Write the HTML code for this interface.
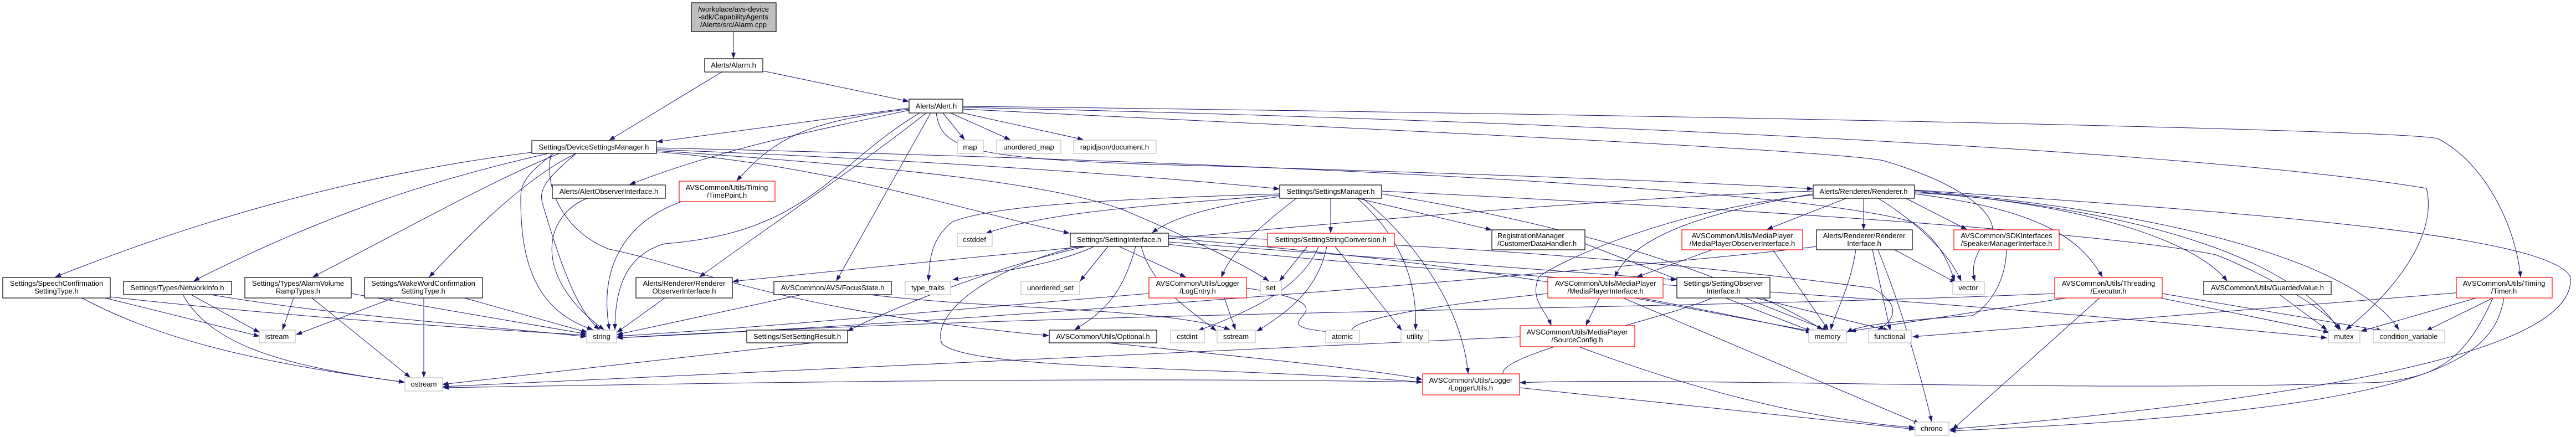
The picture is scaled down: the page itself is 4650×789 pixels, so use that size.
<!DOCTYPE html>
<html><head><meta charset="utf-8"><style>
html,body{margin:0;padding:0;background:#fff;}
svg{display:block;}
text{font-family:"Liberation Sans",Arial,sans-serif;font-size:13px;fill:#000;}
.n rect{fill:#fff;stroke:#000;stroke-width:1.2;}
.r rect{fill:#fff;stroke:#ff0000;stroke-width:1.2;}
.g rect{fill:#fff;stroke:#bfbfbf;stroke-width:1.2;}
.e path{fill:none;stroke:#191970;stroke-width:1;marker-end:url(#a);}
</style></head><body>
<svg width="4650" height="789" viewBox="0 0 4650 789" xmlns="http://www.w3.org/2000/svg">
<defs><marker id="a" markerWidth="11" markerHeight="8" refX="10" refY="4" orient="auto" markerUnits="userSpaceOnUse"><path d="M0,0 L11,4 L0,8 z" fill="#191970"/></marker></defs>
<g class="e">
<path d="M1324,57 L1324,105"/>
<path d="M1377,128 L1640,183"/>
<path d="M1303,130 L1100,253"/>
<path d="M1641,195 L1186,256"/>
<path d="M1702,204 L1741,252"/>
<path d="M1716,204 L1823,252"/>
<path d="M1738,204 L1955,252"/>
<path d="M1641,197 C1450,220 1400,250 1330,326"/>
<path d="M1641,199 C1450,240 1300,270 1137,333"/>
<path d="M1672,204 C1550,300 1400,400 1263,500"/>
<path d="M1680,204 L1510,507"/>
<path d="M1660,204 C1500,300 1460,420 1200,440 C1130,460 1110,520 1110,595"/>
<path d="M1690,204 C1700,270 1740,290 2200,300 C2700,315 3100,330 3272,341"/>
<path d="M1738,192 C2500,200 4300,230 4400,250 C4480,290 4540,400 4550,500"/>
<path d="M1738,194 C2500,210 3900,260 4380,340 C4400,420 4330,520 4235,595"/>
<path d="M1738,197 C2400,230 3300,270 3400,290 C3600,350 3620,420 3580,440 C3560,470 3560,490 3565,507"/>
<path d="M960,275 C600,320 300,420 100,500"/>
<path d="M990,277 C800,320 600,380 350,507"/>
<path d="M1010,277 C900,320 720,420 565,500"/>
<path d="M1040,277 C950,320 850,420 775,500"/>
<path d="M1000,277 C940,320 940,340 940,360 C940,460 960,560 1070,595"/>
<path d="M1040,277 C990,320 970,340 980,370 C1010,470 1040,560 1082,595"/>
<path d="M1185,270 C1700,290 2100,320 2309,341"/>
<path d="M1185,274 C1500,300 1700,370 1930,421"/>
<path d="M1185,272 C1600,300 1900,330 2030,380 C2150,430 2250,480 2290,507"/>
<path d="M1185,267 C2000,285 3200,330 3450,400 C3500,430 3520,480 3528,507"/>
<path d="M995,277 C980,340 1020,420 1100,450 C1250,480 1400,560 1893,606"/>
<path d="M1060,358 C980,390 960,500 1090,595"/>
<path d="M1230,364 C1130,400 1080,480 1100,595"/>
<path d="M1200,538 L1114,600"/>
<path d="M1447,532 L1114,604"/>
<path d="M1570,532 C1800,560 2100,555 2220,595"/>
<path d="M190,538 L468,607"/>
<path d="M148,538 C300,620 500,660 730,690"/>
<path d="M190,535 C500,570 800,590 1058,605"/>
<path d="M345,532 L468,600"/>
<path d="M330,532 C380,620 500,660 730,690"/>
<path d="M380,532 C600,570 900,590 1058,608"/>
<path d="M530,538 L510,595"/>
<path d="M563,538 L740,681"/>
<path d="M634,530 L1058,603"/>
<path d="M710,538 L535,604"/>
<path d="M765,538 L765,681"/>
<path d="M838,538 L1060,600"/>
<path d="M2402,358 L2402,420"/>
<path d="M2450,358 L2692,415"/>
<path d="M2310,352 C2100,370 1900,380 1780,421"/>
<path d="M2310,355 C2200,370 2120,390 2080,420"/>
<path d="M2340,358 C2260,420 2220,460 2205,500"/>
<path d="M2450,358 C2520,420 2560,500 2555,595"/>
<path d="M2460,358 C2560,440 2640,560 2650,674"/>
<path d="M2494,350 C2800,400 3100,480 3290,595"/>
<path d="M2494,345 C3200,380 3800,420 4000,460 C4100,500 4200,560 4225,595"/>
<path d="M2310,350 C2000,360 1800,370 1720,400 C1680,430 1678,470 1676,507"/>
<path d="M3273,345 C2800,360 2000,440 1323,508"/>
<path d="M3333,358 L3190,414"/>
<path d="M3364,358 L3364,414"/>
<path d="M3273,350 C3100,380 2950,420 2915,500"/>
<path d="M3273,352 C3000,380 2800,480 2778,500 C2760,540 2790,560 2800,587"/>
<path d="M3440,358 L3550,414"/>
<path d="M3390,358 C3460,400 3520,460 3540,507"/>
<path d="M3456,350 C3700,380 3760,440 3795,500"/>
<path d="M3456,348 C3700,360 3950,420 4020,507"/>
<path d="M3456,346 C3900,380 4150,480 4222,595"/>
<path d="M3456,344 C3900,380 4250,470 4330,595"/>
<path d="M3456,343 C4000,380 4600,420 4640,500 C4650,600 4400,700 3520,775"/>
<path d="M2109,426 C2600,440 3000,470 3380,520 C3450,560 3400,590 3390,595"/>
<path d="M2109,430 C2600,470 2900,520 3270,600"/>
<path d="M2020,445 L2140,500"/>
<path d="M2000,445 L1950,507"/>
<path d="M1975,445 C1900,480 1800,490 1720,505"/>
<path d="M1960,445 C1800,480 1600,560 1530,598"/>
<path d="M2050,445 C2030,520 2000,560 1940,595"/>
<path d="M2060,445 C2080,520 2150,560 2195,597"/>
<path d="M2109,437 L3026,505"/>
<path d="M1945,445 C1800,480 1680,560 1700,620 C1750,670 2200,660 2567,690"/>
<path d="M2109,441 C2600,500 3300,520 4200,610"/>
<path d="M2360,445 L2310,507"/>
<path d="M2395,445 C2380,520 2330,560 2269,598"/>
<path d="M2380,445 C2350,520 2260,560 2163,597"/>
<path d="M2410,445 L2530,596"/>
<path d="M2250,520 C2500,560 2200,590 2454,603"/>
<path d="M2210,538 L2230,595"/>
<path d="M2074,530 C1700,560 1400,590 1114,607"/>
<path d="M2861,440 L3270,598"/>
<path d="M3091,451 L2955,500"/>
<path d="M3200,451 L3300,595"/>
<path d="M3279,445 C3000,480 1800,580 1114,610"/>
<path d="M3350,451 C3340,520 3310,570 3305,595"/>
<path d="M3380,451 L3412,596"/>
<path d="M3390,451 C3430,550 3460,650 3487,761"/>
<path d="M3420,451 L3530,510"/>
<path d="M2887,538 L2863,587"/>
<path d="M2950,538 L3280,600"/>
<path d="M2930,538 L3465,765"/>
<path d="M2794,530 C2500,560 2400,590 2454,606"/>
<path d="M3090,538 C3000,580 2600,660 2744,690"/>
<path d="M3150,538 L3300,597"/>
<path d="M3170,538 L3410,597"/>
<path d="M3622,451 C3620,520 3580,560 3560,570 C3400,580 3350,590 3334,600"/>
<path d="M3709,530 C3000,560 2000,560 1114,610"/>
<path d="M3730,538 L3340,598"/>
<path d="M3790,538 L3525,775"/>
<path d="M3903,530 L4300,597"/>
<path d="M3900,538 L4204,600"/>
<path d="M4115,532 L4200,595"/>
<path d="M4480,525 L3453,608"/>
<path d="M4470,538 L4262,598"/>
<path d="M4500,538 L4380,597"/>
<path d="M4500,538 C4450,650 4400,680 4300,690 C3800,710 3000,680 2744,691"/>
<path d="M4520,538 C4500,650 4400,740 3520,778"/>
<path d="M1530,612 L799,694"/>
<path d="M2000,619 C2300,650 2500,670 2567,685"/>
<path d="M2744,608 C2000,640 1300,680 800,698"/>
<path d="M2850,626 C3100,720 3300,760 3456,772"/>
<path d="M2743,700 L3456,775"/>
<path d="M2568,690 C2000,680 1400,690 800,700"/>
</g>
<g class="n"><rect x="1248" y="5" width="153" height="52" style="fill:#bfbfbf"/><text x="1324" y="21" text-anchor="middle">/workplace/avs-device</text><text x="1324" y="35" text-anchor="middle">-sdk/CapabilityAgents</text><text x="1324" y="49" text-anchor="middle">/Alerts/src/Alarm.cpp</text></g>
<g class="n"><rect x="1272" y="106" width="105" height="24"/><text x="1324" y="122" text-anchor="middle">Alerts/Alarm.h</text></g>
<g class="n"><rect x="1641" y="179" width="97" height="25"/><text x="1690" y="196" text-anchor="middle">Alerts/Alert.h</text></g>
<g class="n"><rect x="960" y="254" width="225" height="23"/><text x="1072" y="270" text-anchor="middle">Settings/DeviceSettingsManager.h</text></g>
<g class="g"><rect x="1728" y="253" width="47" height="24"/><text x="1751" y="270" text-anchor="middle">map</text></g>
<g class="g"><rect x="1799" y="253" width="116" height="24"/><text x="1857" y="270" text-anchor="middle">unordered_map</text></g>
<g class="g"><rect x="1938" y="253" width="149" height="24"/><text x="2012" y="270" text-anchor="middle">rapidjson/document.h</text></g>
<g class="n"><rect x="997" y="334" width="204" height="24"/><text x="1099" y="350" text-anchor="middle">Alerts/AlertObserverInterface.h</text></g>
<g class="r"><rect x="1226" y="327" width="173" height="37"/><text x="1312" y="343" text-anchor="middle">AVSCommon/Utils/Timing</text><text x="1312" y="357" text-anchor="middle">/TimePoint.h</text></g>
<g class="n"><rect x="2310" y="334" width="184" height="24"/><text x="2402" y="350" text-anchor="middle">Settings/SettingsManager.h</text></g>
<g class="n"><rect x="3273" y="334" width="183" height="24"/><text x="3364" y="350" text-anchor="middle">Alerts/Renderer/Renderer.h</text></g>
<g class="g"><rect x="1728" y="421" width="63" height="24"/><text x="1759" y="437" text-anchor="middle">cstddef</text></g>
<g class="n"><rect x="1932" y="421" width="177" height="24"/><text x="2020" y="437" text-anchor="middle">Settings/SettingInterface.h</text></g>
<g class="r"><rect x="2288" y="421" width="229" height="24"/><text x="2402" y="437" text-anchor="middle">Settings/SettingStringConversion.h</text></g>
<g class="n"><rect x="2693" y="415" width="168" height="36"/><text x="2703" y="430">RegistrationManager</text><text x="2703" y="444">/CustomerDataHandler.h</text></g>
<g class="r"><rect x="3036" y="415" width="218" height="36"/><text x="3145" y="430" text-anchor="middle">AVSCommon/Utils/MediaPlayer</text><text x="3145" y="444" text-anchor="middle">/MediaPlayerObserverInterface.h</text></g>
<g class="n"><rect x="3279" y="415" width="173" height="36"/><text x="3365" y="430" text-anchor="middle">Alerts/Renderer/Renderer</text><text x="3365" y="444" text-anchor="middle">Interface.h</text></g>
<g class="r"><rect x="3527" y="415" width="190" height="36"/><text x="3622" y="430" text-anchor="middle">AVSCommon/SDKInterfaces</text><text x="3622" y="444" text-anchor="middle">/SpeakerManagerInterface.h</text></g>
<g class="n"><rect x="5" y="501" width="194" height="37"/><text x="102" y="516" text-anchor="middle">Settings/SpeechConfirmation</text><text x="102" y="530" text-anchor="middle">SettingType.h</text></g>
<g class="n"><rect x="223" y="508" width="195" height="24"/><text x="320" y="524" text-anchor="middle">Settings/Types/NetworkInfo.h</text></g>
<g class="n"><rect x="442" y="501" width="192" height="37"/><text x="538" y="516" text-anchor="middle">Settings/Types/AlarmVolume</text><text x="538" y="530" text-anchor="middle">RampTypes.h</text></g>
<g class="n"><rect x="658" y="501" width="213" height="37"/><text x="764" y="516" text-anchor="middle">Settings/WakeWordConfirmation</text><text x="764" y="530" text-anchor="middle">SettingType.h</text></g>
<g class="n"><rect x="1148" y="501" width="174" height="37"/><text x="1235" y="516" text-anchor="middle">Alerts/Renderer/Renderer</text><text x="1235" y="530" text-anchor="middle">ObserverInterface.h</text></g>
<g class="n"><rect x="1397" y="508" width="212" height="24"/><text x="1503" y="524" text-anchor="middle">AVSCommon/AVS/FocusState.h</text></g>
<g class="g"><rect x="1634" y="508" width="82" height="24"/><text x="1675" y="524" text-anchor="middle">type_traits</text></g>
<g class="g"><rect x="1843" y="508" width="106" height="24"/><text x="1896" y="524" text-anchor="middle">unordered_set</text></g>
<g class="r"><rect x="2074" y="501" width="176" height="37"/><text x="2162" y="516" text-anchor="middle">AVSCommon/Utils/Logger</text><text x="2162" y="530" text-anchor="middle">/LogEntry.h</text></g>
<g class="g"><rect x="2275" y="508" width="38" height="24"/><text x="2294" y="524" text-anchor="middle">set</text></g>
<g class="r"><rect x="2794" y="501" width="208" height="37"/><text x="2898" y="516" text-anchor="middle">AVSCommon/Utils/MediaPlayer</text><text x="2898" y="530" text-anchor="middle">/MediaPlayerInterface.h</text></g>
<g class="n"><rect x="3027" y="501" width="168" height="37"/><text x="3111" y="516" text-anchor="middle">Settings/SettingObserver</text><text x="3111" y="530" text-anchor="middle">Interface.h</text></g>
<g class="g"><rect x="3525" y="508" width="57" height="24"/><text x="3553" y="524" text-anchor="middle">vector</text></g>
<g class="r"><rect x="3709" y="501" width="194" height="37"/><text x="3806" y="516" text-anchor="middle">AVSCommon/Utils/Threading</text><text x="3806" y="530" text-anchor="middle">/Executor.h</text></g>
<g class="n"><rect x="3978" y="508" width="230" height="24"/><text x="4093" y="524" text-anchor="middle">AVSCommon/Utils/GuardedValue.h</text></g>
<g class="r"><rect x="4434" y="501" width="173" height="37"/><text x="4520" y="516" text-anchor="middle">AVSCommon/Utils/Timing</text><text x="4520" y="530" text-anchor="middle">/Timer.h</text></g>
<g class="g"><rect x="468" y="596" width="65" height="23"/><text x="500" y="612" text-anchor="middle">istream</text></g>
<g class="g"><rect x="1059" y="596" width="54" height="23"/><text x="1086" y="612" text-anchor="middle">string</text></g>
<g class="n"><rect x="1348" y="596" width="182" height="23"/><text x="1439" y="612" text-anchor="middle">Settings/SetSettingResult.h</text></g>
<g class="g"><rect x="2393" y="596" width="61" height="23"/><text x="2423" y="612" text-anchor="middle">atomic</text></g>
<g class="g"><rect x="2529" y="596" width="50" height="23"/><text x="2554" y="612" text-anchor="middle">utility</text></g>
<g class="n"><rect x="1894" y="596" width="194" height="23"/><text x="1991" y="612" text-anchor="middle">AVSCommon/Utils/Optional.h</text></g>
<g class="g"><rect x="2113" y="596" width="61" height="23"/><text x="2143" y="612" text-anchor="middle">cstdint</text></g>
<g class="g"><rect x="2197" y="596" width="69" height="23"/><text x="2231" y="612" text-anchor="middle">sstream</text></g>
<g class="r"><rect x="2744" y="588" width="207" height="38"/><text x="2847" y="604" text-anchor="middle">AVSCommon/Utils/MediaPlayer</text><text x="2847" y="618" text-anchor="middle">/SourceConfig.h</text></g>
<g class="g"><rect x="3265" y="596" width="68" height="23"/><text x="3299" y="612" text-anchor="middle">memory</text></g>
<g class="g"><rect x="3373" y="596" width="77" height="23"/><text x="3411" y="612" text-anchor="middle">functional</text></g>
<g class="g"><rect x="4203" y="596" width="57" height="23"/><text x="4231" y="612" text-anchor="middle">mutex</text></g>
<g class="g"><rect x="4284" y="596" width="129" height="23"/><text x="4348" y="612" text-anchor="middle">condition_variable</text></g>
<g class="g"><rect x="731" y="682" width="68" height="24"/><text x="765" y="698" text-anchor="middle">ostream</text></g>
<g class="r"><rect x="2568" y="675" width="175" height="38"/><text x="2655" y="691" text-anchor="middle">AVSCommon/Utils/Logger</text><text x="2655" y="705" text-anchor="middle">/LoggerUtils.h</text></g>
<g class="g"><rect x="3457" y="762" width="61" height="24"/><text x="3487" y="778" text-anchor="middle">chrono</text></g>
</svg>
</body></html>
